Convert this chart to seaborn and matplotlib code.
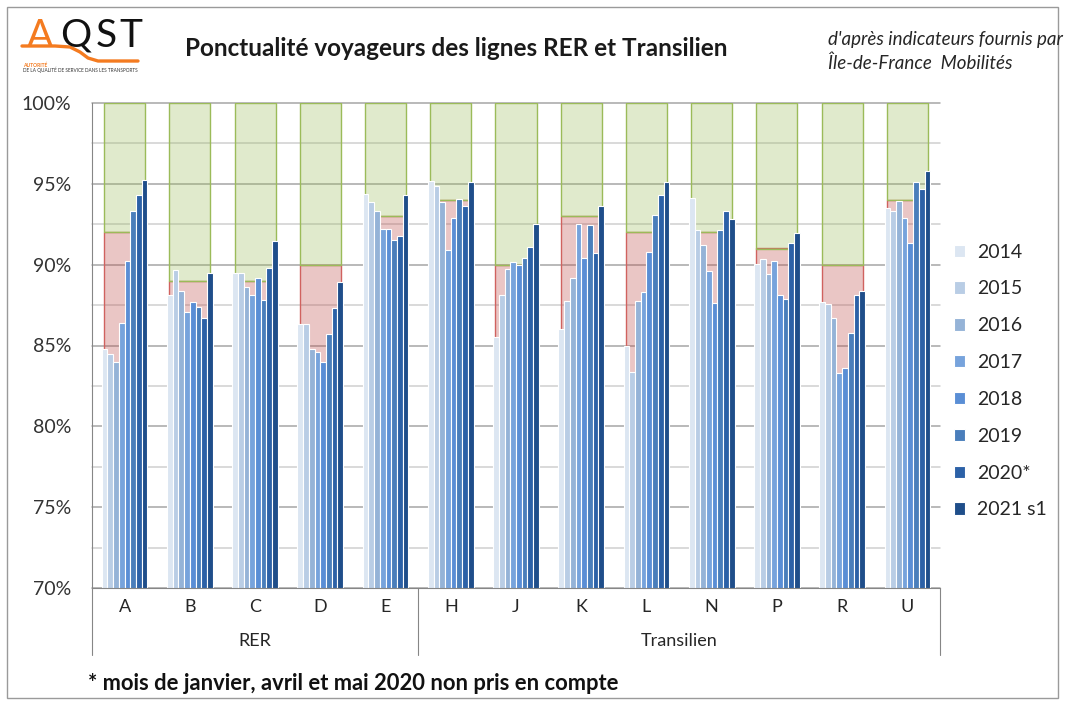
import numpy as np
import pandas as pd
import matplotlib
matplotlib.use("Agg")
import matplotlib.pyplot as plt
import seaborn as sns
from matplotlib.lines import Line2D
from matplotlib.patches import Rectangle
import matplotlib.transforms as mtransforms

# --- Données -------------------------------------------------------------
lignes = ["A", "B", "C", "D", "E", "H", "J", "K", "L", "N", "P", "R", "U"]
reseaux = ["RER"] * 5 + ["Transilien"] * 8
annees = ["2014", "2015", "2016", "2017", "2018", "2019", "2020*", "2021 s1"]
objectifs = [92, 89, 89, 90, 93, 94, 90, 93, 92, 92, 91, 90, 94]

v2014 = [84.8, 88.1, 89.5, 86.35, 94.35, 95.2, 85.5, 86.05, 84.95, 94.1, 90.05, 87.7, 93.5]
v2015 = [84.5, 89.7, 89.5, 86.3, 93.85, 94.85, 88.15, 87.75, 83.35, 92.15, 90.35, 87.55, 93.3]
v2016 = [84.0, 88.4, 88.6, 84.8, 93.35, 93.9, 89.75, 89.2, 87.75, 91.2, 89.4, 86.7, 93.95]
v2017 = [86.4, 87.1, 88.1, 84.6, 92.2, 90.9, 90.15, 92.5, 88.3, 89.6, 90.25, 83.3, 92.9]
v2018 = [90.2, 87.7, 89.2, 84.0, 92.2, 92.9, 90.0, 90.4, 90.8, 87.6, 88.1, 83.6, 91.35]
v2019 = [93.3, 87.4, 87.8, 85.7, 91.55, 94.05, 90.4, 92.45, 93.05, 92.15, 87.9, 85.75, 95.1]
v2020 = [94.3, 86.7, 89.8, 87.35, 91.8, 93.6, 91.1, 90.75, 94.3, 93.3, 91.35, 88.1, 94.65]
v2021 = [95.25, 89.5, 91.45, 88.9, 94.3, 95.1, 92.5, 93.6, 95.1, 92.85, 91.95, 88.4, 95.8]

couleurs = ["#dce6f2", "#b9cde5", "#95b3d7", "#77a3dc",
            "#5a8ed5", "#4a7ebb", "#2c61a7", "#1f4e8a"]

series = [v2014, v2015, v2016, v2017, v2018, v2019, v2020, v2021]
df = pd.DataFrame([
    {"ligne": l, "annee": a, "ponctualite": v}
    for a, vals in zip(annees, series)
    for l, v in zip(lignes, vals)
])

# --- Style ---------------------------------------------------------------
sns.set_style("white")
plt.rcParams["font.family"] = ["Lato", "DejaVu Sans"]

W, H = 1066, 705
fig = plt.figure(figsize=(W / 100, H / 100), dpi=100)
fig.patch.set_facecolor("white")


def fx(px):
    return px / W


def fy(py):
    return 1 - py / H


ax = fig.add_axes([fx(92), fy(588), fx(940) - fx(92), fy(103) - fy(588)])

sns.barplot(data=df, x="ligne", y="ponctualite", hue="annee",
            order=lignes, hue_order=annees, palette=couleurs,
            saturation=1, width=0.70, errorbar=None,
            edgecolor="white", linewidth=0.8, ax=ax)

pos = np.arange(len(lignes))
bas_rouge = 80
obj = np.array(objectifs, dtype=float)
# zone au-dessus de l'objectif (verte) et en dessous (rouge)
ax.bar(pos, 100 - obj, bottom=obj, width=0.63,
       facecolor=(155 / 255, 187 / 255, 89 / 255, 0.30),
       edgecolor="#9bbb59", linewidth=1.0, zorder=0.8)
ax.bar(pos, obj - bas_rouge, bottom=bas_rouge, width=0.63,
       facecolor=(192 / 255, 80 / 255, 77 / 255, 0.32),
       edgecolor="#d0625f", linewidth=1.0, zorder=0.7)

# quadrillage
for y in np.arange(70, 100.01, 2.5):
    major = abs(y % 5) < 1e-9
    ax.axhline(y, color="#a6a6a6" if major else "#cfcfcf",
               lw=1.1, zorder=0.5, clip_on=False)

ax.set_ylim(70, 100)
ax.set_xlim(-0.5, len(lignes) - 0.5)
ax.set_xlabel("")
ax.set_ylabel("")
ax.set_yticks(np.arange(70, 101, 5))
ax.set_yticklabels([f"{int(v)}%" for v in np.arange(70, 101, 5)])
ax.tick_params(axis="y", direction="out", length=5, width=0.8,
               color="#868686", pad=10, labelsize=14, labelcolor="#333333")

ax.set_xticks(np.arange(-0.5, len(lignes), 1.0))
ax.set_xticklabels([""] * (len(lignes) + 1))
ax.set_xticks(pos, minor=True)
ax.set_xticklabels(lignes, minor=True)
ax.tick_params(axis="x", which="major", direction="out", length=24.5,
               width=0.8, color="#868686")
ax.tick_params(axis="x", which="minor", length=0, pad=8,
               labelsize=13, labelcolor="#262626")

for s in ["top", "right"]:
    ax.spines[s].set_visible(False)
for s in ["left", "bottom"]:
    ax.spines[s].set_color("#868686")
    ax.spines[s].set_linewidth(0.8)

# séparateurs des réseaux
trans = mtransforms.blended_transform_factory(ax.transData, ax.transAxes)
bas_sep = -67 / 485
for xs in [-0.5, 4.5, len(lignes) - 0.5]:
    ax.add_line(Line2D([xs, xs], [0, bas_sep], transform=trans,
                       color="#868686", lw=0.8, clip_on=False))
for nom in ["RER", "Transilien"]:
    idx = [i for i, r in enumerate(reseaux) if r == nom]
    ax.text((idx[0] + idx[-1]) / 2, -0.109, nom, transform=trans,
            ha="center", va="center", fontsize=13, color="#262626")

# légende
handles, labels = ax.get_legend_handles_labels()
if ax.legend_ is not None:
    ax.legend_.remove()
fig.legend(handles, labels, loc="center left",
           bbox_to_anchor=(fx(944), fy(381)), frameon=False,
           fontsize=14, handlelength=0.6, handleheight=0.6,
           handletextpad=0.6, labelspacing=1.02, borderpad=0)

# titres et notes
fig.text(fx(456), fy(48), "Ponctualité voyageurs des lignes RER et Transilien",
         ha="center", va="center", fontsize=17.5, fontweight="bold",
         color="#1a1a1a")
fig.text(fx(828), fy(40), "d'après indicateurs fournis par",
         ha="left", va="center", fontsize=13.5, style="italic", color="#262626")
fig.text(fx(828), fy(63), "Île-de-France  Mobilités",
         ha="left", va="center", fontsize=13.5, style="italic", color="#262626")
fig.text(fx(88), fy(684), "* mois de janvier, avril et mai 2020 non pris en compte",
         ha="left", va="center", fontsize=15.8, fontweight="bold", color="#111111")

# logo AQST
orange = "#f47b20"
for lettre, xc, col in [("A", 40, orange), ("Q", 76, "#111111"),
                        ("S", 106, "#111111"), ("T", 131, "#111111")]:
    fig.text(fx(xc), fy(36), lettre, ha="center", va="center",
             fontsize=28, color=col)
fig.add_artist(Line2D([fx(p) for p in [22, 55, 70, 80, 88, 98, 138]],
                      [fy(p) for p in [46, 46, 47, 52, 58, 61, 61]],
                      color=orange, lw=2.4, solid_capstyle="round"))
fig.text(fx(23), fy(65), "AUTORITÉ", ha="left", va="center",
         fontsize=3.6, fontweight="bold", color=orange)
fig.text(fx(23), fy(70), "DE LA QUALITÉ DE SERVICE DANS LES TRANSPORTS",
         ha="left", va="center", fontsize=3.4, color="#333333")

# cadre
fig.add_artist(Rectangle((fx(7), fy(698)), fx(1058) - fx(7), fy(7) - fy(698),
                         fill=False, edgecolor="#9a9a9a", lw=1.0))

fig.savefig("out.png", dpi=100, facecolor="white")
